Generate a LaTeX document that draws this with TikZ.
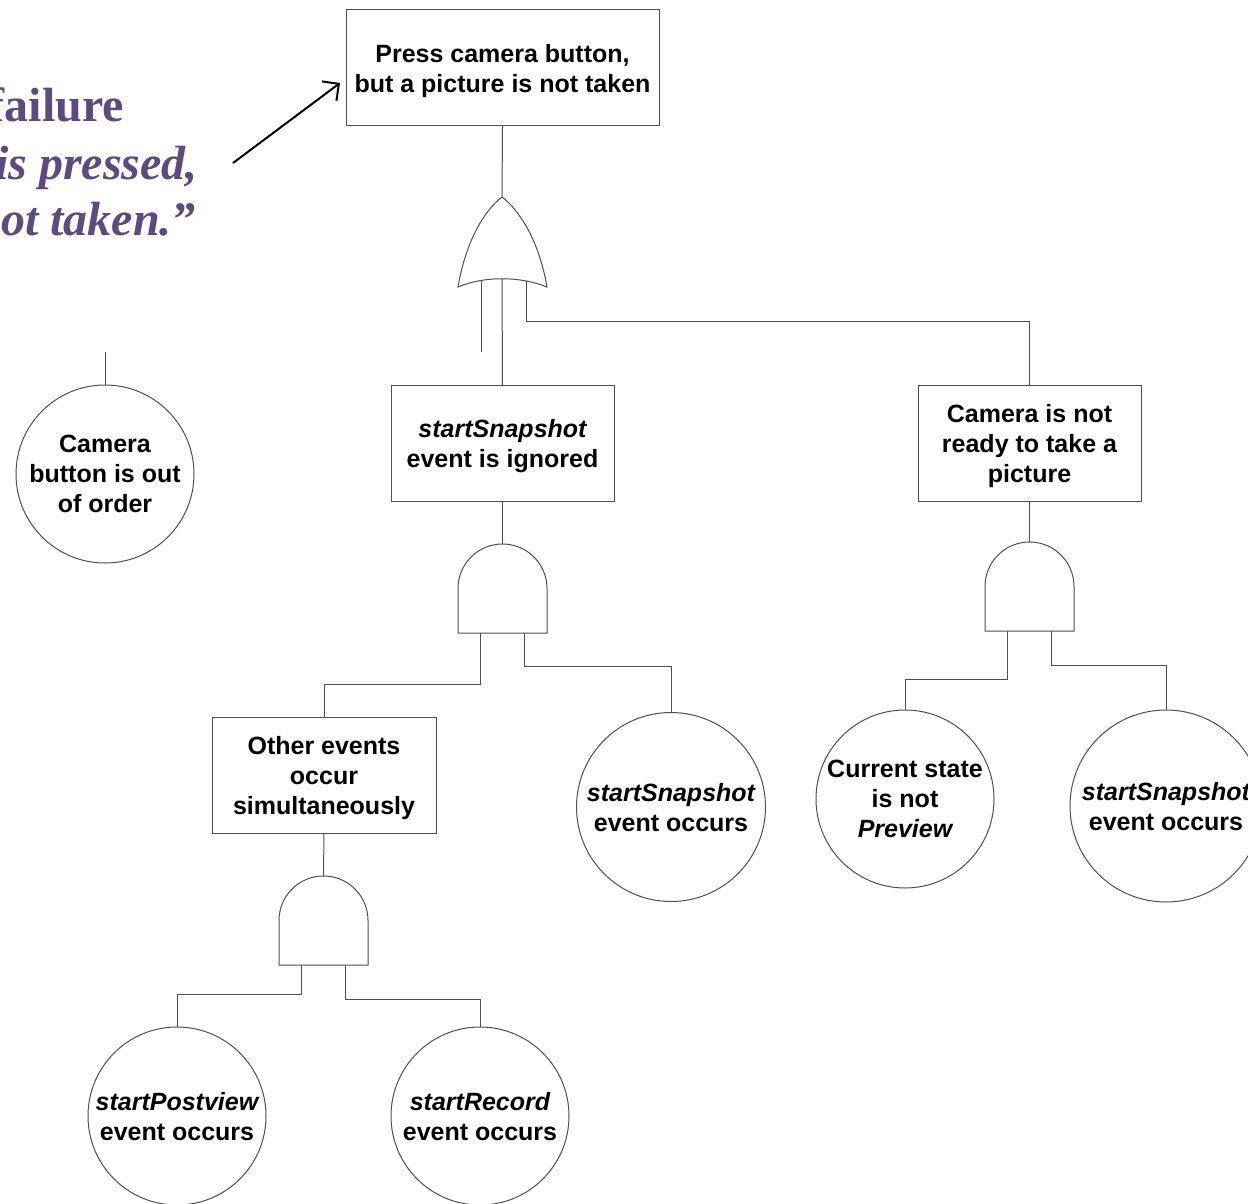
\documentclass[tikz,border=0pt]{standalone}
\usepackage{fontspec}
\setmainfont{Liberation Sans}
\newfontfamily\quotefont{Liberation Serif}
\usetikzlibrary{arrows.meta}
\definecolor{lineg}{HTML}{505050}
\definecolor{quotepurple}{HTML}{5E4A7E}
% AND gate: #1 name, #2 centre x, #3 top y (flat base 89 below the top)
\newcommand{\fgand}[3]{%
  \draw[gate] (#2-44.5,#3+89) -- (#2-44.5,#3+44.5)
    .. controls (#2-44.5,#3+19.9) and (#2-24.6,#3) .. (#2,#3)
    .. controls (#2+24.6,#3) and (#2+44.5,#3+19.9) .. (#2+44.5,#3+44.5)
    -- (#2+44.5,#3+89) -- cycle;
  \coordinate (#1-out) at (#2,#3);
  \coordinate (#1-a) at (#2-22,#3+89);
  \coordinate (#1-b) at (#2+22,#3+89);}
\tikzset{
  gate/.style={draw=lineg, line width=1pt},
  wire/.style={draw=lineg, line width=1pt},
  evbox/.style={draw=lineg, line width=1pt, fill=white, inner sep=0pt, outer sep=0pt,
    align=center, font=\fontsize{25}{30}\selectfont\bfseries, text depth=0pt},
  basic/.style={evbox, circle},
}
\begin{document}
\begin{tikzpicture}[x=1pt,y=-1pt]
\useasboundingbox (0,0) rectangle (1248,1204);
\clip (0,0) rectangle (1248,1204);

% quoted failure statement
\begin{scope}[every node/.style={text=quotepurple, inner sep=0pt, anchor=base east,
    font=\quotefont\fontsize{48}{56}\selectfont\bfseries}]
  \node (q1) at (124,122) {failure};
  \node[font=\quotefont\fontsize{48}{56}\selectfont\bfseries\itshape] (q2) at (198,179) {is pressed,};
  \node[font=\quotefont\fontsize{48}{56}\selectfont\bfseries\itshape] (q3) at (196,235) {ot taken.”};
\end{scope}

% events
\node[evbox, minimum width=313, minimum height=116] (top) at (502.5,68) {Press camera button,\\but a picture is not taken};
\node[evbox, minimum width=223, minimum height=116] (ign) at (502.5,443) {\itshape startSnapshot\\event is ignored};
\node[evbox, minimum width=223, minimum height=116] (rdy) at (1029.5,443) {Camera is not\\ready to take a\\picture};
\node[evbox, minimum width=224, minimum height=116] (oth) at (324,775) {Other events\\occur\\simultaneously};

% basic events
\node[basic, minimum size=178] (btn) at (105,474) {Camera\\button is out\\of order};
\node[basic, minimum size=189] (ss1) at (671,807) {{\itshape startSnapshot}\\event occurs};
\node[basic, minimum size=178] (cur) at (905,799) {Current state\\is not\\{\itshape Preview}};
\node[basic, minimum size=192] (ss2) at (1166,806) {{\itshape startSnapshot}\\event occurs};
\node[basic, minimum size=178] (pv) at (177,1116) {{\itshape startPostview}\\event occurs};
\node[basic, minimum size=178] (rec) at (480,1116) {{\itshape startRecord}\\event occurs};

% OR gate
\draw[gate] (458,287) .. controls (466,240) and (485,210) .. (502,197)
  .. controls (519,210) and (539,240) .. (547,287)
  .. controls (520,276) and (484,276) .. (458,287) -- cycle;
\coordinate (or-out) at (502,197);
\coordinate (or-a) at (481,281);
\coordinate (or-b) at (502,279);
\coordinate (or-c) at (526,281);
\coordinate (or-astub) at (481,352);
\coordinate (btn-stub) at (105,352);

% AND gates
\fgand{and1}{502.5}{544}
\fgand{and2}{323.5}{876}
\fgand{and3}{1029.5}{542}

% connectors
\draw[wire] (top.south) -- (or-out);
\draw[wire] (or-a) -- (or-astub);
\draw[wire] (btn-stub) -- (btn.north);
\draw[wire] (or-b) -- (ign.north);
\draw[wire] (or-c) -- ++(0,40) -| (rdy.north);

\draw[wire] (ign.south) -- (and1-out);
\draw[wire] (and1-a) -- ++(0,51) -| (oth.north);
\draw[wire] (and1-b) -- ++(0,33) -| (ss1.north);

\draw[wire] (oth.south) -- (and2-out);
\draw[wire] (and2-a) -- ++(0,29) -| (pv.north);
\draw[wire] (and2-b) -- ++(0,34) -| (rec.north);

\draw[wire] (rdy.south) -- (and3-out);
\draw[wire] (and3-a) -- ++(0,48) -| (cur.north);
\draw[wire] (and3-b) -- ++(0,34) -| (ss2.north);

% pointer from the statement to the top event
\coordinate (arr-start) at (233,163);
\coordinate (arr-end) at (340,83);
\draw[line width=2pt, -{Straight Barb[length=12pt, width=24pt, line width=2pt]}] (arr-start) -- (arr-end);
\end{tikzpicture}
\end{document}
